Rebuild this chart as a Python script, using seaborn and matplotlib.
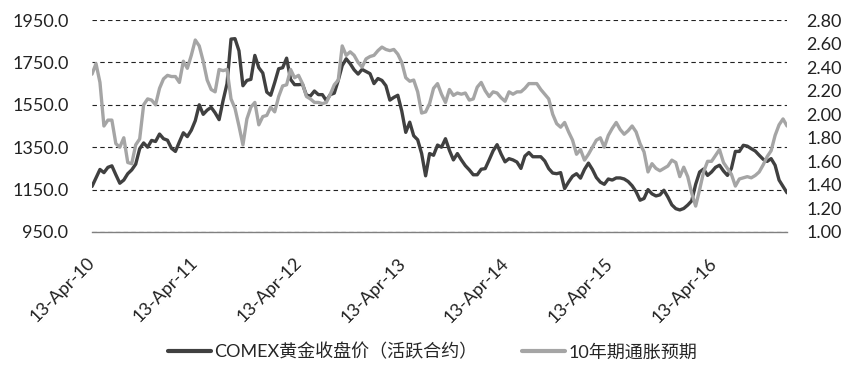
import pandas as pd
import numpy as np
import seaborn as sns
import matplotlib.pyplot as plt

# fortnightly readings, Apr 2010 - Dec 2016
dates = pd.date_range('2010-04-13', periods=176, freq='14D')

gold = [1165, 1205, 1245, 1230, 1255, 1262, 1220, 1180, 1195, 1225,
        1243, 1270, 1343, 1370, 1350, 1382, 1377, 1412, 1390, 1383,
        1345, 1330, 1375, 1418, 1400, 1430, 1475, 1550, 1505, 1525,
        1538, 1512, 1480, 1570, 1650, 1860, 1862, 1805, 1640, 1665,
        1670, 1783, 1725, 1700, 1610, 1595, 1655, 1720, 1725, 1770,
        1670, 1645, 1645, 1647, 1595, 1592, 1615, 1598, 1598, 1570,
        1598, 1605, 1665, 1735, 1767, 1744, 1715, 1695, 1717, 1707,
        1697, 1650, 1674, 1665, 1640, 1572, 1585, 1595, 1520, 1420,
        1468, 1404, 1385, 1320, 1215, 1320, 1312, 1360, 1350, 1390,
        1335, 1290, 1320, 1290, 1263, 1243, 1220, 1220, 1246, 1249,
        1290, 1333, 1362, 1318, 1281, 1296, 1290, 1280, 1250, 1308,
        1325, 1305, 1305, 1305, 1285, 1249, 1228, 1225, 1230, 1155,
        1186, 1213, 1225, 1204, 1245, 1275, 1245, 1207, 1185, 1175,
        1200, 1195, 1205, 1205, 1200, 1188, 1168, 1140, 1100, 1108,
        1150, 1130, 1120, 1125, 1147, 1115, 1078, 1060, 1054, 1061,
        1077, 1097, 1175, 1233, 1247, 1217, 1233, 1255, 1265, 1238,
        1217, 1250, 1330, 1330, 1359, 1355, 1343, 1332, 1312, 1293,
        1283, 1296, 1265, 1195, 1165, 1135]

infl = [2.34, 2.43, 2.27, 1.90, 1.95, 1.95, 1.75, 1.72, 1.80, 1.59,
        1.58, 1.74, 1.79, 2.08, 2.13, 2.12, 2.08, 2.22, 2.30, 2.33,
        2.32, 2.32, 2.27, 2.45, 2.39, 2.50, 2.63, 2.58, 2.45, 2.29,
        2.21, 2.19, 2.38, 2.37, 2.38, 2.13, 2.05, 1.90, 1.74, 1.96,
        2.06, 2.10, 1.91, 1.98, 1.99, 2.06, 2.02, 2.15, 2.24, 2.25,
        2.38, 2.31, 2.33, 2.26, 2.15, 2.13, 2.10, 2.10, 2.09, 2.10,
        2.17, 2.25, 2.29, 2.58, 2.50, 2.53, 2.50, 2.44, 2.40, 2.47,
        2.49, 2.50, 2.54, 2.57, 2.55, 2.54, 2.55, 2.51, 2.44, 2.31,
        2.28, 2.29, 2.19, 2.01, 2.02, 2.09, 2.22, 2.26, 2.17, 2.10,
        2.21, 2.16, 2.18, 2.17, 2.18, 2.12, 2.13, 2.23, 2.27, 2.20,
        2.15, 2.19, 2.18, 2.14, 2.11, 2.19, 2.17, 2.19, 2.19, 2.22,
        2.26, 2.26, 2.26, 2.21, 2.17, 2.13, 2.00, 1.92, 1.89, 1.93,
        1.85, 1.78, 1.66, 1.70, 1.61, 1.66, 1.72, 1.78, 1.80, 1.72,
        1.82, 1.88, 1.93, 1.87, 1.83, 1.86, 1.90, 1.85, 1.75, 1.68,
        1.51, 1.58, 1.54, 1.52, 1.54, 1.56, 1.61, 1.59, 1.47, 1.55,
        1.47, 1.33, 1.22, 1.36, 1.51, 1.60, 1.60, 1.65, 1.70, 1.59,
        1.54, 1.49, 1.39, 1.45, 1.46, 1.47, 1.46, 1.48, 1.51, 1.57,
        1.64, 1.69, 1.82, 1.91, 1.96, 1.90]

gold_label = 'COMEX黄金收盘价（活跃合约）'
infl_label = '10年期通胀预期'
xticks = pd.date_range('2010-04-13', periods=7, freq=pd.DateOffset(years=1))
left_ticks = np.arange(950, 1951, 200)
right_ticks = np.arange(1.0, 2.81, 0.2)

df = pd.DataFrame({'date': dates, 'gold': gold, 'infl': infl})

sns.set_style('white')
plt.rcParams['font.family'] = ['Lato', 'Noto Sans CJK SC', 'DejaVu Sans']

fig = plt.figure(figsize=(8.56, 3.74), dpi=100)
ax = fig.add_axes([0.1075, 0.3797, 0.8119, 0.5668])
ax2 = ax.twinx()

sns.lineplot(data=df, x='date', y='gold', color='#404040', linewidth=2.4, ax=ax, label=gold_label, legend=False)
sns.lineplot(data=df, x='date', y='infl', color='#a5a5a5', linewidth=2.4, ax=ax2, label=infl_label, legend=False)

ax.set_xlim(dates[0], dates[-1])
ax.set_ylim(950, 1950)
ax2.set_ylim(1.0, 2.8)
ax.set_yticks(left_ticks)
ax.set_yticklabels([f'{v:.1f}' for v in left_ticks])
ax2.set_yticks(right_ticks)
ax2.set_yticklabels([f'{v:.2f}' for v in right_ticks])
ax.set_xticks(xticks)
ax.set_xticklabels([d.strftime('%d-%b-%y') for d in xticks], rotation=45,
                   ha='right', va='center', rotation_mode='anchor')
ax.set_xlabel('')
ax.set_ylabel('')
ax2.set_ylabel('')

ax.grid(axis='y', linestyle=(0, (4, 3)), color='#222222', linewidth=0.8)
ax.grid(axis='x', visible=False)
ax2.grid(False)

for s in ['left', 'right', 'top']:
    ax.spines[s].set_visible(False)
for s in ax2.spines.values():
    s.set_visible(False)
ax.spines['bottom'].set_color('#808080')
ax.spines['bottom'].set_linewidth(1.0)

ax.tick_params(axis='y', length=0, pad=17, labelsize=13, colors='#222222')
ax2.tick_params(axis='y', length=0, pad=14, labelsize=13, colors='#222222')
ax.tick_params(axis='x', length=4.5, width=1, color='#808080', pad=16, labelsize=13, labelcolor='#222222')

h1, l1 = ax.get_legend_handles_labels()
h2, l2 = ax2.get_legend_handles_labels()
leg = fig.legend(h1 + h2, l1 + l2, loc='center', bbox_to_anchor=(0.505, 0.059), ncol=2,
                 frameon=False, fontsize=13, handlelength=2.4, handletextpad=0.15, columnspacing=2.5)
for line in leg.get_lines():
    line.set_linewidth(3.0)

fig.savefig('out.png', dpi=100)
